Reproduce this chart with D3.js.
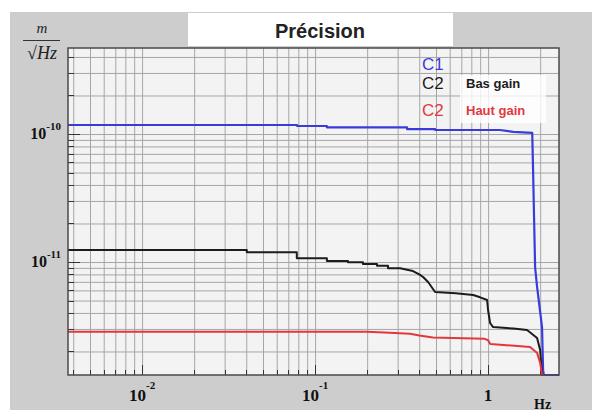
<!DOCTYPE html>
<html>
<head>
<meta charset="utf-8">
<script src="https://cdn.jsdelivr.net/npm/d3@7"></script>
<style>
  html, body { margin: 0; padding: 0; background: #ffffff; }
  svg { display: block; }
</style>
</head>
<body>
<svg id="chart" width="600" height="412"></svg>
<script>
// Frequency axis (Hz) and noise axis (m/sqrt(Hz)) limits
const freqDomain = [0.00373, 2.57];
const noiseDomain = [1.31e-12, 4.7e-10];

// Labelled decades
const xMajorTicks = [0.01, 0.1, 1];
const xMajorLabels = [["10", "-2"], ["10", "-1"], ["1", ""]];
const yMajorTicks = [1e-10, 1e-11];
const yMajorLabels = [["10", "-10"], ["10", "-11"]];

// C1
const c1Freq = [0.00373, 0.0787, 0.0787, 0.117, 0.117, 0.34, 0.34, 0.494, 0.494, 1.17, 1.40, 1.80, 1.82, 1.87, 1.92, 2.05, 2.08, 2.10, 2.57];
const c1Val  = [1.176e-10, 1.176e-10, 1.155e-10, 1.155e-10, 1.128e-10, 1.128e-10, 1.094e-10, 1.094e-10, 1.075e-10, 1.075e-10, 1.04e-10, 1.02e-10, 5.2e-11, 9.1e-12, 6.4e-12, 3.1e-12, 1.43e-12, 1.0e-12, 1.0e-12];

// C2, bas gain
const c2bFreq = [0.00373, 0.0403, 0.0403, 0.0784, 0.0784, 0.117, 0.117, 0.155, 0.155, 0.189, 0.189, 0.228, 0.228, 0.264, 0.264, 0.31, 0.34, 0.368, 0.40, 0.421, 0.45, 0.494, 0.65, 0.82, 0.90, 0.987, 1.0, 1.027, 1.069, 1.40, 1.68, 1.92, 2.0, 2.05, 2.10];
const c2bVal  = [1.24e-11, 1.24e-11, 1.19e-11, 1.19e-11, 1.07e-11, 1.07e-11, 1.02e-11, 1.02e-11, 9.95e-12, 9.95e-12, 9.65e-12, 9.65e-12, 9.36e-12, 9.36e-12, 8.93e-12, 8.93e-12, 8.7e-12, 8.5e-12, 8.0e-12, 7.64e-12, 6.98e-12, 5.83e-12, 5.7e-12, 5.52e-12, 5.3e-12, 5.05e-12, 4.2e-12, 3.34e-12, 3.10e-12, 3.02e-12, 2.94e-12, 2.55e-12, 2.05e-12, 1.2e-12, 1.0e-12];

// C2, haut gain
const c2hFreq = [0.00373, 0.20, 0.27, 0.354, 0.40, 0.48, 0.95, 1.0, 1.03, 1.75, 1.92, 2.0, 2.05, 2.10];
const c2hVal  = [2.85e-12, 2.85e-12, 2.80e-12, 2.75e-12, 2.67e-12, 2.57e-12, 2.52e-12, 2.45e-12, 2.29e-12, 2.17e-12, 1.95e-12, 1.63e-12, 1.2e-12, 1.0e-12];

const seriesColors = ["#3b3bdc", "#1c1c1c", "#e2373c"];

const svg = d3.select("#chart");
const plot = { left: 68, top: 48, right: 559, bottom: 375 };

const x = d3.scaleLog().domain(freqDomain).range([plot.left, plot.right]);
const y = d3.scaleLog().domain(noiseDomain).range([plot.bottom, plot.top]).clamp(true);

// Canvas panel
svg.append("rect").attr("x", 10).attr("y", 12).attr("width", 582).attr("height", 398)
  .attr("fill", "#cdcdcd");

// Title box
svg.append("rect").attr("x", 188).attr("y", 13).attr("width", 265).attr("height", 33)
  .attr("fill", "#ffffff");
svg.append("text").attr("x", 320).attr("y", 38).attr("text-anchor", "middle")
  .attr("font-family", "Liberation Sans, Arial, sans-serif").attr("font-weight", "bold")
  .attr("font-size", 20).attr("fill", "#222").text("Précision");

// Plot area
svg.append("rect").attr("x", plot.left).attr("y", plot.top)
  .attr("width", plot.right - plot.left).attr("height", plot.bottom - plot.top)
  .attr("fill", "#f3f3f3");

// Every 1..9 step of each decade inside the domains
function logSteps(domain) {
  const out = [];
  const lo = Math.floor(Math.log10(domain[0])), hi = Math.ceil(Math.log10(domain[1]));
  for (let e = lo; e <= hi; e++) {
    for (let m = 1; m <= 9; m++) {
      const v = m * Math.pow(10, e);
      if (v >= domain[0] && v <= domain[1]) out.push(v);
    }
  }
  return out;
}
const xSteps = logSteps(freqDomain);
const ySteps = logSteps(noiseDomain);

// Grid
const grid = svg.append("g");
grid.append("g")
  .attr("transform", `translate(0,${plot.bottom})`)
  .call(d3.axisBottom(x).tickValues(xSteps).tickSize(-(plot.bottom - plot.top)).tickFormat(""))
  .call(g => g.select(".domain").remove())
  .call(g => g.selectAll("line").attr("stroke", "#a6a6a6").attr("stroke-width", 1));
grid.append("g")
  .attr("transform", `translate(${plot.left},0)`)
  .call(d3.axisLeft(y).tickValues(ySteps).tickSize(-(plot.right - plot.left)).tickFormat(""))
  .call(g => g.select(".domain").remove())
  .call(g => g.selectAll("line").attr("stroke", "#a6a6a6").attr("stroke-width", 1));

// Legend backing
svg.append("rect").attr("x", 460).attr("y", 75).attr("width", 86).attr("height", 48)
  .attr("fill", "#ffffff").attr("opacity", 0.8);

// Inner tick marks
const isMajor = v => Math.abs(Math.log10(v) - Math.round(Math.log10(v))) < 1e-9;
const ticks = svg.append("g").attr("stroke", "#333").attr("stroke-width", 1);
ticks.selectAll(".yt").data(ySteps).join("line")
  .attr("x1", plot.left).attr("x2", d => plot.left + (isMajor(d) ? 12 : 6))
  .attr("y1", d => Math.round(y(d)) + 0.5).attr("y2", d => Math.round(y(d)) + 0.5);
ticks.selectAll(".xt").data(xSteps).join("line")
  .attr("y1", plot.bottom).attr("y2", d => plot.bottom - (isMajor(d) ? 10 : 5))
  .attr("x1", d => Math.round(x(d)) + 0.5).attr("x2", d => Math.round(x(d)) + 0.5);

// Curves
const line = d3.line().x(d => x(d[0])).y(d => y(d[1]));
const series = [
  { f: c1Freq, v: c1Val, w: 2.2 },
  { f: c2bFreq, v: c2bVal, w: 2 },
  { f: c2hFreq, v: c2hVal, w: 2 }
];
const curves = svg.append("g");
series.forEach((s, i) => {
  curves.append("path")
    .datum(s.f.map((f, k) => [f, s.v[k]]))
    .attr("d", line)
    .attr("fill", "none")
    .attr("stroke", seriesColors[i])
    .attr("stroke-width", s.w)
    .attr("stroke-linejoin", "round");
});

// Frame
svg.append("rect").attr("x", plot.left).attr("y", plot.top)
  .attr("width", plot.right - plot.left).attr("height", plot.bottom - plot.top)
  .attr("fill", "none").attr("stroke", "#4a4a4a").attr("stroke-width", 1.5);

// Axis labels
const serif = "Liberation Serif, Times New Roman, serif";
xMajorTicks.forEach((v, i) => {
  const t = svg.append("text").attr("x", x(v)).attr("y", 401).attr("text-anchor", "middle")
    .attr("font-family", serif).attr("font-weight", "bold").attr("font-size", 17).attr("fill", "#111");
  t.append("tspan").text(xMajorLabels[i][0]);
  if (xMajorLabels[i][1]) {
    t.append("tspan").attr("dy", -12).attr("font-size", 11).text(xMajorLabels[i][1]);
  }
});
yMajorTicks.forEach((v, i) => {
  const t = svg.append("text").attr("x", 61).attr("y", y(v) + 5).attr("text-anchor", "end")
    .attr("font-family", serif).attr("font-weight", "bold").attr("font-size", 16).attr("fill", "#111");
  t.append("tspan").text(yMajorLabels[i][0]);
  t.append("tspan").attr("dy", -9).attr("font-size", 11).text(yMajorLabels[i][1]);
});

// Units
svg.append("text").attr("x", 534).attr("y", 409)
  .attr("font-family", serif).attr("font-weight", "bold").attr("font-size", 14).attr("fill", "#111").text("Hz");
svg.append("text").attr("x", 42).attr("y", 33).attr("text-anchor", "middle")
  .attr("font-family", serif).attr("font-style", "italic").attr("font-size", 15).attr("fill", "#222").text("m");
svg.append("line").attr("x1", 23).attr("x2", 60).attr("y1", 40.5).attr("y2", 40.5)
  .attr("stroke", "#333").attr("stroke-width", 1);
svg.append("text").attr("x", 42).attr("y", 59).attr("text-anchor", "middle")
  .attr("font-family", serif).attr("font-style", "italic").attr("font-size", 18).attr("fill", "#222").text("√Hz");

// Legend
const sans = "Liberation Sans, Arial, sans-serif";
const legendNames = ["C1", "C2", "C2"];
const legendNotes = ["", "Bas gain", "Haut gain"];
const legendBaselines = [70, 89, 116];
legendNames.forEach((n, i) => {
  svg.append("text").attr("x", 422).attr("y", legendBaselines[i])
    .attr("font-family", sans).attr("font-size", 17).attr("fill", seriesColors[i]).text(n);
  if (legendNotes[i]) {
    svg.append("text").attr("x", 466).attr("y", legendBaselines[i] - 1)
      .attr("font-family", sans).attr("font-weight", "bold").attr("font-size", 13)
      .attr("fill", seriesColors[i]).text(legendNotes[i]);
  }
});
</script>
</body>
</html>
